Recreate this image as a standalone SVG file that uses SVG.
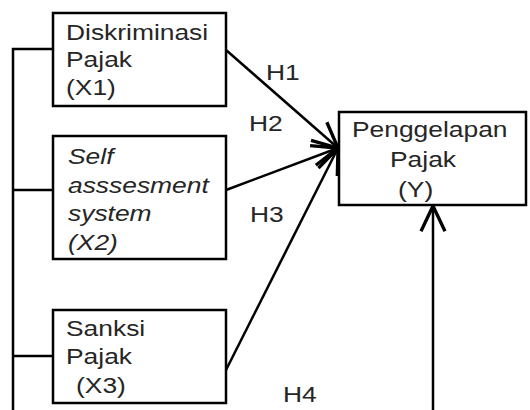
<svg xmlns="http://www.w3.org/2000/svg" width="530" height="410" viewBox="0 0 530 410">
<style>
.box{fill:#fff;stroke:#000;stroke-width:2.5}
.t{font-family:"Liberation Sans",Arial,sans-serif;font-size:22px;fill:#262626}
.i{font-style:italic}
.c{fill:none;stroke:#000;stroke-width:2.5}
</style>
<defs>
<marker id="ah" markerUnits="userSpaceOnUse" markerWidth="40" markerHeight="40" viewBox="-25 -15 30 30" refX="0" refY="0" orient="auto" overflow="visible">
<path d="M-19,-9 L0,0 L-19,9" fill="none" stroke="#000" stroke-width="2.5"/>
</marker>
</defs>
<rect width="530" height="410" fill="#fff"/>
<g id="connectors">
<path class="c" d="M13,410 V49 H53" stroke-width="2"/>
<path class="c" d="M13,190 H53"/>
<path class="c" d="M13,356 H53"/>
<line class="c" x1="226" y1="50" x2="338" y2="148" marker-end="url(#ah)"/>
<line class="c" x1="226" y1="190" x2="338" y2="148" marker-end="url(#ah)"/>
<line class="c" x1="226" y1="370" x2="338" y2="148" marker-end="url(#ah)"/>
<line class="c" x1="433" y1="410" x2="433" y2="206" marker-end="url(#ah)"/>
<text class="t" transform="translate(266,80) scale(1.2,1)">H1</text>
<text class="t" transform="translate(249,131) scale(1.2,1)">H2</text>
<text class="t" transform="translate(250,222) scale(1.2,1)">H3</text>
<text class="t" transform="translate(283,402) scale(1.2,1)">H4</text>
</g>
<g id="x1">
<rect class="box" x="53" y="13" width="173" height="93"/>
<text class="t" transform="translate(66,40) scale(1.2,1)">Diskriminasi</text>
<text class="t" transform="translate(66,67) scale(1.2,1)">Pajak</text>
<text class="t" transform="translate(66,95) scale(1.2,1)">(X1)</text>
</g>
<g id="x2">
<rect class="box" x="53" y="136" width="173" height="123"/>
<text class="t i" transform="translate(68,164) scale(1.2,1)">Self</text>
<text class="t i" transform="translate(68,193) scale(1.2,1)">asssesment</text>
<text class="t i" transform="translate(68,221) scale(1.2,1)">system</text>
<text class="t i" transform="translate(68,250) scale(1.2,1)">(X2)</text>
</g>
<g id="x3">
<rect class="box" x="53" y="310" width="173" height="93"/>
<text class="t" transform="translate(66,336) scale(1.2,1)">Sanksi</text>
<text class="t" transform="translate(66,364) scale(1.2,1)">Pajak</text>
<text class="t" transform="translate(76,393) scale(1.2,1)">(X3)</text>
</g>
<g id="y">
<rect class="box" x="339" y="112" width="187" height="93"/>
<text class="t" transform="translate(352,137) scale(1.2,1)">Penggelapan</text>
<text class="t" transform="translate(390,167) scale(1.2,1)">Pajak</text>
<text class="t" transform="translate(398,197) scale(1.2,1)">(Y)</text>
</g>
</svg>
